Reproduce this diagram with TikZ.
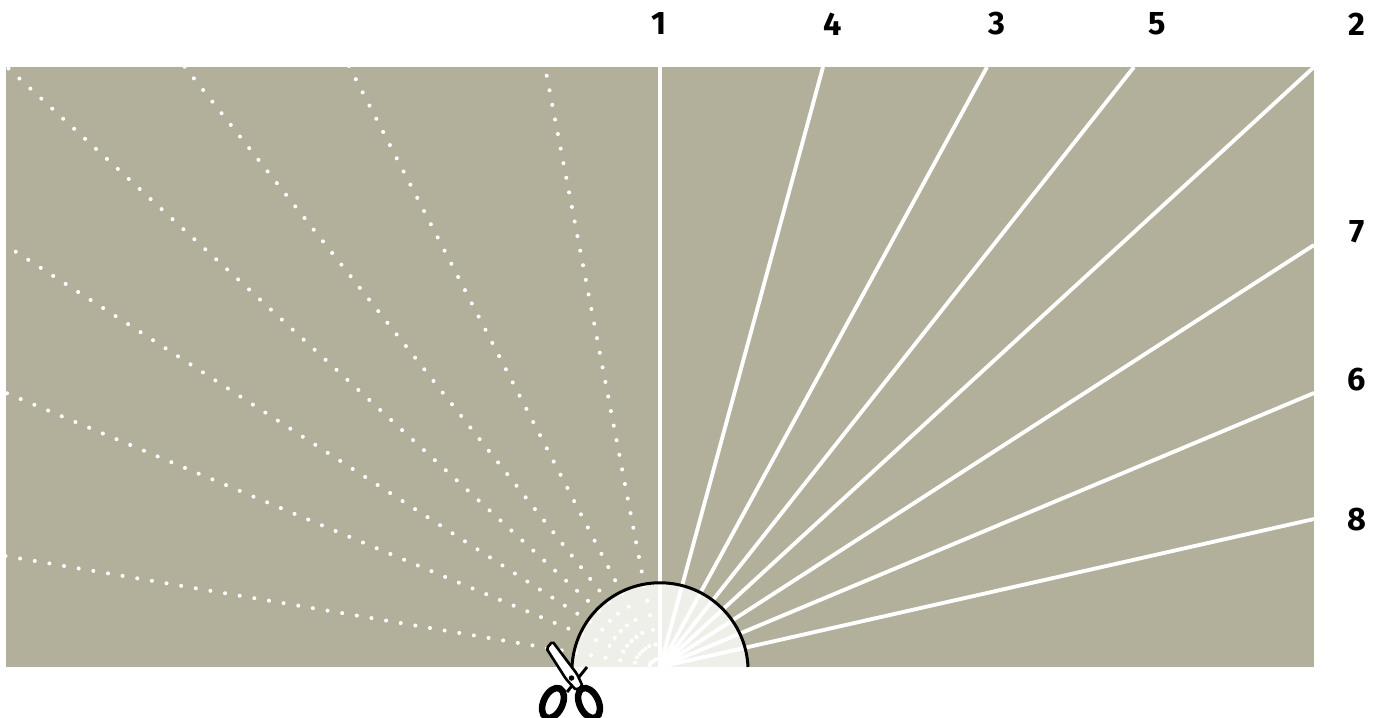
\documentclass[tikz,border=0pt]{standalone}
\usepackage{fontspec}
\setmainfont{Fira Sans}
\definecolor{board}{HTML}{B2AF9A}
\tikzset{
  num/.style={inner sep=0pt, font=\fontsize{18.5}{20}\selectfont\bfseries},
  cutline/.style={draw=white, line width=2.2pt},
  foldline/.style={draw=white, line width=2.3pt, line cap=round, dash pattern=on 0pt off 8.45pt},
  ring/.style={draw=black, line width=3.7pt},
}
\begin{document}
\begin{tikzpicture}[x=0.02cm, y=-0.02cm]

        \useasboundingbox (0,0) rectangle (1379,717);

        % Define nodes (labels)

        \node (n1) at ( 659, 24 ) [num] {1};
        \node (n4) at ( 833, 24 ) [num] {4};
        \node (n3) at ( 997, 24 ) [num] {3};
        \node (n5) at ( 1157, 24 ) [num] {5};
        \node (n2) at ( 1357, 24 ) [num] {2};
        \node (n7) at ( 1357, 232 ) [num] {7};
        \node (n6) at ( 1357, 380 ) [num] {6};
        \node (n8) at ( 1357, 520 ) [num] {8};

        % Define points

        \coordinate (cc) at ( 660, 667 );

        \coordinate (e1) at ( 660, 67 );
        \coordinate (e4) at ( 823, 67 );
        \coordinate (e3) at ( 987, 67 );
        \coordinate (e5) at ( 1134, 67 );
        \coordinate (e2) at ( 1314, 67 );
        \coordinate (e7) at ( 1314, 245 );
        \coordinate (e6) at ( 1314, 393 );
        \coordinate (e8) at ( 1314, 519 );

        \coordinate (f1) at ( 546.7, 75.7 );
        \coordinate (f2) at ( 349, 66 );
        \coordinate (f3) at ( 184.7, 66.7 );
        \coordinate (f4) at ( 8.5, 68.5 );
        \coordinate (f5) at ( 3.3, 243.7 );
        \coordinate (f6) at ( 7, 393.3 );
        \coordinate (f7) at ( 5.5, 556 );

        % Sheet

        \fill[board] (6,67) rectangle (1314,667);

        % Draw folds

        \draw[cutline] (cc) -- (e1);
        \draw[cutline] (cc) -- (e4);
        \draw[cutline] (cc) -- (e3);
        \draw[cutline] (cc) -- (e5);
        \draw[cutline] (cc) -- (e2);
        \draw[cutline] (cc) -- (e7);
        \draw[cutline] (cc) -- (e6);
        \draw[cutline] (cc) -- (e8);

        \draw[foldline] (f1) -- (cc);
        \draw[foldline] (f2) -- (cc);
        \draw[foldline] (f3) -- (cc);
        \draw[foldline] (f4) -- (cc);
        \draw[foldline] (f5) -- (cc);
        \draw[foldline] (f6) -- (cc);
        \draw[foldline] (f7) -- (cc);

        % Half circle

        \fill[white, opacity=0.8] (572,667) arc[start angle=177.5, end angle=2.5, radius=1.762cm] -- cycle;
        \draw[black, line width=1.7pt] (572,667) arc[start angle=177.5, end angle=2.5, radius=1.762cm];

        % Scissors

        \draw[black, line width=1.7pt] (587,667) -- (567,692);
        \fill[white] (566,687.5) circle [radius=0.03cm];
        \draw[black, line width=1.5pt, fill=white, rounded corners=1pt] (552.5,641.5) -- (546.5,648.5) -- (566,679) -- (576,690) -- (582.5,686) -- (577,674) -- cycle;
        \fill[black] (571.5,678) circle [radius=0.055cm];
        \draw[ring, rotate around={-25:(553,703)}] (553,703) ellipse [x radius=0.19cm, y radius=0.32cm];
        \draw[ring, rotate around={25:(589,703)}] (589,703) ellipse [x radius=0.19cm, y radius=0.32cm];

    \end{tikzpicture}
\end{document}
